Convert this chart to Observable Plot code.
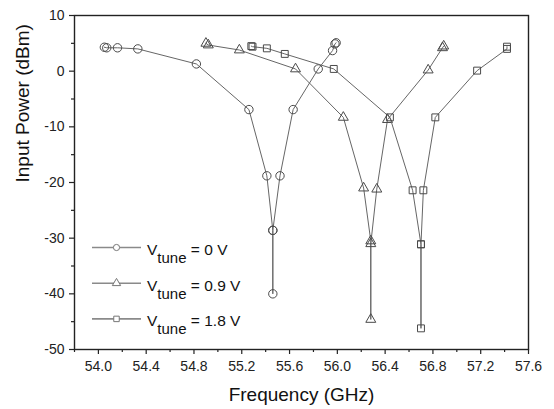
<!DOCTYPE html>
<html>
<head>
<meta charset="utf-8">
<script src="https://cdn.jsdelivr.net/npm/d3@7"></script>
<script src="https://cdn.jsdelivr.net/npm/@observablehq/plot@0.6"></script>
<style>
  html, body { margin: 0; padding: 0; background: #fff; }
  #chart { width: 554px; height: 409px; }
</style>
</head>
<body>
<div id="chart"></div>
<script>
// Series: V_tune = 0 V (circles)
const freq0 = [54.05, 54.07, 54.16, 54.33, 54.82, 55.26, 55.41, 55.46, 55.46, 55.46, 55.52, 55.63, 55.84, 55.96, 55.98, 55.99];
const pow0  = [4.3, 4.2, 4.2, 4.0, 1.3, -6.9, -18.8, -28.6, -40.0, -28.6, -18.8, -6.9, 0.4, 3.7, 4.9, 5.1];
// Series: V_tune = 0.9 V (triangles)
const freq1 = [54.90, 54.92, 55.18, 55.65, 56.05, 56.22, 56.28, 56.28, 56.28, 56.33, 56.42, 56.76, 56.88, 56.89];
const pow1  = [5.0, 4.7, 3.8, 0.4, -8.3, -21.0, -30.5, -44.6, -31.0, -21.2, -8.7, 0.2, 4.2, 4.5];
// Series: V_tune = 1.8 V (squares)
const freq2 = [55.28, 55.29, 55.41, 55.56, 55.97, 56.44, 56.63, 56.70, 56.70, 56.70, 56.72, 56.82, 57.17, 57.42, 57.42];
const pow2  = [4.5, 4.4, 4.1, 3.1, 0.4, -8.3, -21.4, -31.1, -46.2, -31.1, -21.4, -8.3, 0.1, 4.0, 4.4];

const seriesNames = ["0 V", "0.9 V", "1.8 V"];
const seriesSymbols = ["circle", "triangle", "square"];
const seriesR = [4.2, 3.7, 3.9];

const xTicks = [54.0, 54.4, 54.8, 55.2, 55.6, 56.0, 56.4, 56.8, 57.2, 57.6];
const xMinor = [53.8, 54.2, 54.6, 55.0, 55.4, 55.8, 56.2, 56.6, 57.0, 57.4];
const yTicks = [10, 0, -10, -20, -30, -40, -50];
const yMinor = [5, -5, -15, -25, -35, -45];

const freqs = [freq0, freq1, freq2];
const pows = [pow0, pow1, pow2];
const data = [];
freqs.forEach((fs, s) => fs.forEach((f, i) => data.push({series: seriesNames[s], f, p: pows[s][i], idx: s})));

const font = "'Liberation Sans', Arial, Helvetica, sans-serif";

const marks = [
  Plot.axisX(xTicks, {tickSize: 5, tickPadding: 7, tickFormat: d => d.toFixed(1), label: null, fontSize: 14, stroke: "#222", strokeWidth: 1.2}),
  Plot.axisX(xMinor, {tickSize: 3, tickFormat: () => "", label: null, stroke: "#222", strokeWidth: 1.2}),
  Plot.axisY(yTicks, {tickSize: 5, tickPadding: 5, tickFormat: d => String(d), label: null, fontSize: 14, stroke: "#222", strokeWidth: 1.2}),
  Plot.axisY(yMinor, {tickSize: 3, tickFormat: () => "", label: null, stroke: "#222", strokeWidth: 1.2}),
];
seriesNames.forEach((name, s) => {
  const d = data.filter(r => r.series === name);
  marks.push(Plot.line(d, {x: "f", y: "p", stroke: "#666", strokeWidth: 1}));
  marks.push(Plot.dot(d, {x: "f", y: "p", symbol: () => seriesSymbols[s], r: seriesR[s], stroke: "#4a4a4a", fill: "none", strokeWidth: 1}));
});
marks.push(Plot.frame({stroke: "#222", strokeWidth: 1.4}));
marks.push(Plot.text(["Frequency (GHz)"], {frameAnchor: "bottom", dy: 51, fontSize: 19, fill: "#111"}));
marks.push(Plot.text(["Input Power (dBm)"], {frameAnchor: "left", dx: -52, rotate: -90, fontSize: 19, fill: "#111"}));

const chart = Plot.plot({
  width: 554,
  height: 409,
  marginLeft: 74,
  marginRight: 26,
  marginTop: 15,
  marginBottom: 60,
  x: {domain: [53.8, 57.6]},
  y: {domain: [-50, 10]},
  style: {fontFamily: font, color: "#222", background: "#fff"},
  marks
});
document.getElementById("chart").appendChild(chart);

// Legend (inside plot area, lower left)
const svg = d3.select(chart);
const lg = svg.append("g").attr("font-family", font).attr("fill", "#111").attr("text-anchor", "start");
seriesNames.forEach((name, i) => {
  const cy = 247.5 + 35.7 * i;
  const row = lg.append("g").attr("transform", `translate(0,${cy})`);
  row.append("line").attr("x1", 92).attr("x2", 141).attr("y1", 0).attr("y2", 0)
    .attr("stroke", "#8a8a8a").attr("stroke-width", 1.6);
  row.append("path").attr("transform", "translate(116.5,0)")
    .attr("d", d3.symbol(seriesSymbols[i] === "circle" ? d3.symbolCircle : seriesSymbols[i] === "triangle" ? d3.symbolTriangle : d3.symbolSquare, 30)())
    .attr("fill", "#fff").attr("stroke", "#777").attr("stroke-width", 1);
  const t = row.append("text").attr("x", 147).attr("y", 7.5).attr("font-size", 15.5).attr("text-anchor", "start");
  t.append("tspan").text("V");
  t.append("tspan").attr("dy", 8).attr("font-size", 15).text("tune");
  t.append("tspan").attr("dy", -8).text(" = " + name);
});
</script>
</body>
</html>
